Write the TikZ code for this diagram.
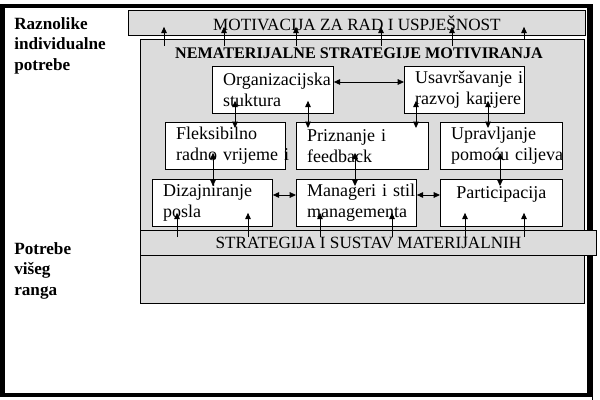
\documentclass[tikz,border=0pt]{standalone}
\usepackage{fontspec}
\setmainfont{Liberation Serif}
\usepackage{tikz}
\usetikzlibrary{arrows.meta,positioning,calc}
\definecolor{PanelGray}{HTML}{DCDCDC}

\tikzset{
  traka/.style={draw,fill=PanelGray,line width=0.6pt,anchor=north west,
                inner sep=0pt,font=\fontsize{12.2}{14}\selectfont},
  kutija/.style={draw,fill=white,line width=0.6pt,anchor=north west,
                 minimum height=1.175cm,inner xsep=0.27cm,inner ysep=0pt,
                 text width=#1,align=left,font=\fontsize{12.8}{15}\selectfont},
  kutija/.default=2.46cm,
  oznaka/.style={anchor=north west,inner sep=0pt,align=left,
                 font=\fontsize{12.2}{14.6}\selectfont\bfseries},
  strel/.style={-{Triangle[length=4.5pt,width=4pt]},line width=0.6pt},
  dvostrel/.style={{Triangle[length=4.5pt,width=4pt]}-{Triangle[length=4.5pt,width=4pt]},
                   line width=0.6pt}
}

\begin{document}
\begin{tikzpicture}[x=0.025cm,y=-0.025cm]
  \useasboundingbox (0,0) rectangle (600,400);

  % okvir
  \draw[line width=3pt] (2.5,6) rectangle (589.5,395);
  \draw[line width=0.6pt] (560,4) -- (592.5,4) -- (592.5,400);

  % lijeve oznake
  \node[oznaka] (raznolike) at (14,17) {Raznolike\\individualne\\potrebe};
  \node[oznaka] (visi) at (14,242) {Potrebe\\višeg\\ranga};

  % trake i panel
  \node[traka,minimum width=11.425cm,minimum height=0.625cm] (motiv) at (128,10)
    {\raisebox{-1pt}{MOTIVACIJA ZA RAD I USPJEŠNOST}};
  \node[draw,fill=PanelGray,line width=0.6pt,anchor=north west,
        minimum width=11.1cm,minimum height=6.6cm] (panel) at (140,39) {};
  \node[font=\fontsize{11.5}{13}\selectfont\bfseries] (nema) at (359,53)
    {NEMATERIJALNE STRATEGIJE MOTIVIRANJA};
  \node[traka,minimum width=11.4cm,minimum height=0.625cm] (mat) at (140,230)
    {\raisebox{-1pt}{STRATEGIJA I SUSTAV MATERIJALNIH}};

  % kutije
  \node[kutija=2.485cm] (org) at (212,66) {\mbox{Organizacijska}\\stuktura};
  \node[kutija] (usav) at (404,66) {\mbox{Usavršavanje i}\\\mbox{razvoj karijere}};
  \node[kutija] (flek) at (165,122) {\mbox{Fleksibilno}\\\mbox{radno vrijeme i}};
  \node[kutija=2.76cm] (priz) at (296,122) {Priznanje i\\feedback};
  \node[kutija=2.51cm] (upr) at (440,122) {\mbox{Upravljanje}\\\mbox{pomoću ciljeva}};
  \node[kutija] (diz) at (152,179) {\mbox{Dizajniranje}\\posla};
  \node[kutija] (man) at (296,179) {\mbox{Manageri i stil}\\\mbox{managementa}};
  \node[kutija=2.51cm,align=center] (part) at (440,179) {Participacija\\\mbox{}};

  % strelice prema motivaciji
  \foreach \x/\od in {164/-0.175cm,224/-0.175cm,296/-0.175cm,381/-0.175cm,452/-0.175cm,524/0cm}
    \draw[strel,shorten <=\od,shorten >=-0.225cm] (\x,0 |- panel.north) -- (\x,0 |- motiv.south);

  % veze medju kutijama
  \draw[dvostrel] (org.east |- 0,82) -- (usav.west |- 0,82);
  \draw[dvostrel] (diz.east |- 0,195) -- (man.west |- 0,195);
  \draw[dvostrel] (man.east |- 0,195) -- (part.west |- 0,195);
  \foreach \x/\a/\b in {235/org/flek,308/org/priz,416/usav/priz,488/usav/upr}
    \draw[dvostrel,shorten <=-0.325cm,shorten >=-0.15cm] (\x,0 |- \a.south) -- (\x,0 |- \b.north);
  \foreach \x/\a/\b in {213/flek/diz,355/priz/man,500/upr/part}
    \draw[dvostrel,shorten <=-0.425cm,shorten >=-0.175cm] (\x,0 |- \a.south) -- (\x,0 |- \b.north);

  % strelice od materijalnih
  \foreach \x/\b in {177/diz,248/diz,320/man,392/man,465/part,524/part}
    \draw[strel,shorten <=-0.175cm,shorten >=-0.35cm] (\x,0 |- mat.north) -- (\x,0 |- \b.south);
\end{tikzpicture}
\end{document}
